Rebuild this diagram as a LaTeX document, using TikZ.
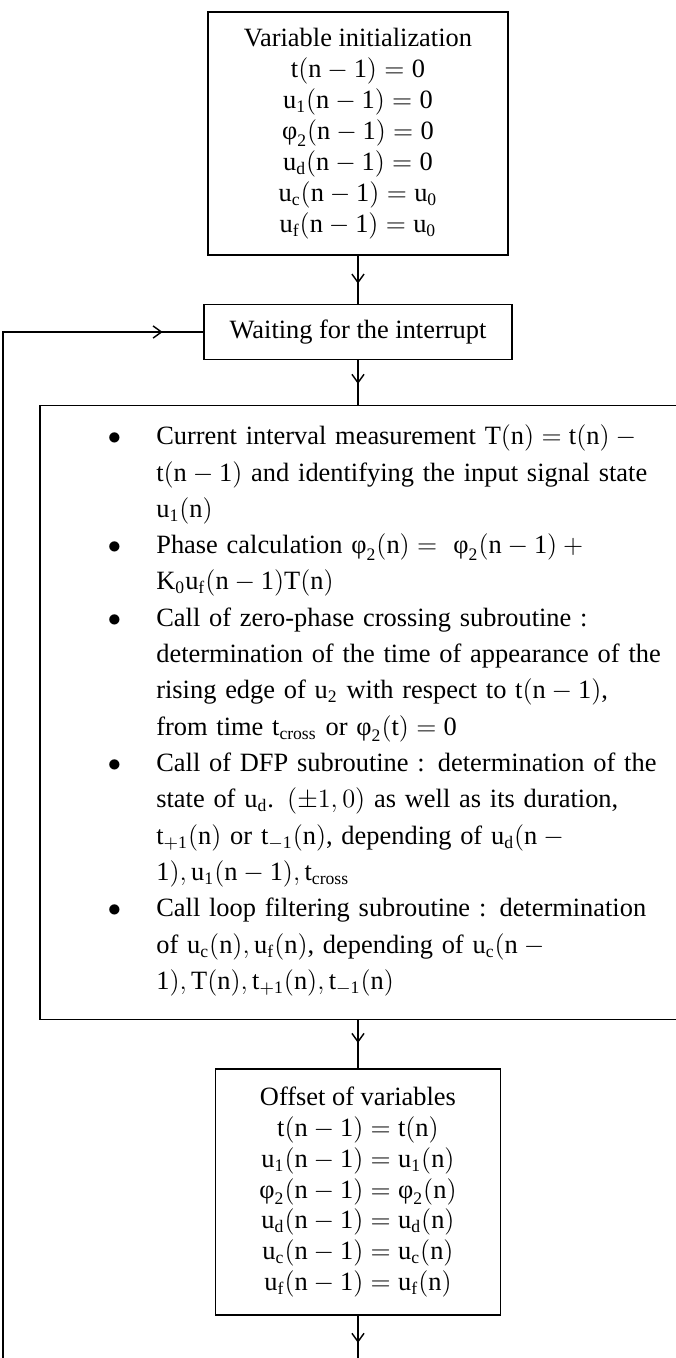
\documentclass[tikz,border=0pt]{standalone}
\usepackage{amsmath}
\usepackage{fontspec}
\setmainfont{Liberation Serif}
\usepackage{enumitem}
\usetikzlibrary{arrows.meta,positioning,decorations.markings}
\newcommand{\vphi}{\text{φ}}

\begin{document}
\begin{tikzpicture}[
  node distance=21.8pt,
  box/.style={rectangle,draw,line width=0.65pt,align=center,inner sep=0pt,font=\fontsize{12pt}{14pt}\selectfont},
  flow/.style={line width=0.65pt,postaction={decorate},decoration={markings,mark=at position #1 with {\arrow{Straight Barb[length=3.8pt,width=5.5pt]}}}},
  flow/.default=0.55]
\path[use as bounding box] (-162.7pt,60.7pt) rectangle ++(306.8pt,-617.2pt);
\node[box,minimum width=136.4pt,minimum height=110.5pt,font=\fontsize{12pt}{14.1pt}\selectfont] (init) at (0,0) {Variable initialization\\
  $\mathrm{t(n-1)=0}$\\ $\mathrm{u_1(n-1)=0}$\\ $\mathrm{\vphi_2(n-1)=0}$\\
  $\mathrm{u_d(n-1)=0}$\\ $\mathrm{u_c(n-1)=u_0}$\\ $\mathrm{u_f(n-1)=u_0}$};
\node[box,below=of init,minimum width=140pt,minimum height=25pt] (wait) {Waiting for the interrupt};
\node[box,below=20.3pt of wait,xshift=1.2pt,text width=291.5pt,align=left,font=\fontsize{12pt}{16.5pt}\selectfont] (tasks) {%
  \begin{itemize}[label=$\bullet$,leftmargin=52.9pt,labelsep=16pt,itemsep=0pt,topsep=0pt,parsep=0pt,partopsep=0pt]
  \item \rule{0pt}{16.8pt}Current interval measurement $\mathrm{T(n)=t(n)}-{}$\newline
    $\mathrm{t(n-1)}$ and identifying the input signal state\newline $\mathrm{u_1(n)}$
  \item Phase calculation $\mathrm{\vphi_2(n)=\ \vphi_2(n-1)}+{}$\newline $\mathrm{K_0u_f(n-1)T(n)}$
  \item Call of zero-phase crossing subroutine :\newline
    determination of the time of appearance of the\newline
    rising edge of $\mathrm{u_2}$ with respect to $\mathrm{t(n-1)}$,\newline
    from time $\mathrm{t_{cross}}$ or $\mathrm{\vphi_2(t)=0}$
  \item Call of DFP subroutine : determination of the\newline
    state of $\mathrm{u_d}$. $(\pm1,0)$ as well as its duration,\newline
    $\mathrm{t_{+1}(n)}$ or $\mathrm{t_{-1}(n)}$, depending of $\mathrm{u_d(n}-{}$\newline
    $\mathrm{1),u_1(n-1),t_{cross}}$
  \item Call loop filtering subroutine : determination\newline
    of $\mathrm{u_c(n),u_f(n)}$, depending of $\mathrm{u_c(n}-{}$\newline
    $\mathrm{1),T(n),t_{+1}(n),t_{-1}(n)}$\rule[-13.8pt]{0pt}{13.8pt}
  \end{itemize}};
\node[box,below=of tasks,xshift=-1.2pt,minimum width=129.5pt,minimum height=111.8pt] (offset) {Offset of variables\\
  $\mathrm{t(n-1)=t(n)}$\\ $\mathrm{u_1(n-1)=u_1(n)}$\\ $\mathrm{\vphi_2(n-1)=\vphi_2(n)}$\\
  $\mathrm{u_d(n-1)=u_d(n)}$\\ $\mathrm{u_c(n-1)=u_c(n)}$\\ $\mathrm{u_f(n-1)=u_f(n)}$};
\coordinate (exit) at ([yshift=-20.5pt]offset.south);
\coordinate (loopbot) at ([xshift=-161.4pt]exit);
\draw[flow=0.58] (init) -- (wait);
\draw[flow=0.53] (wait) -- (wait |- tasks.north);
\draw[flow=0.47] (offset |- tasks.south) -- (offset);
\draw[flow=0.6] (offset) -- (exit);
\draw[flow=0.967] (loopbot) |- (wait);
\end{tikzpicture}
\end{document}
